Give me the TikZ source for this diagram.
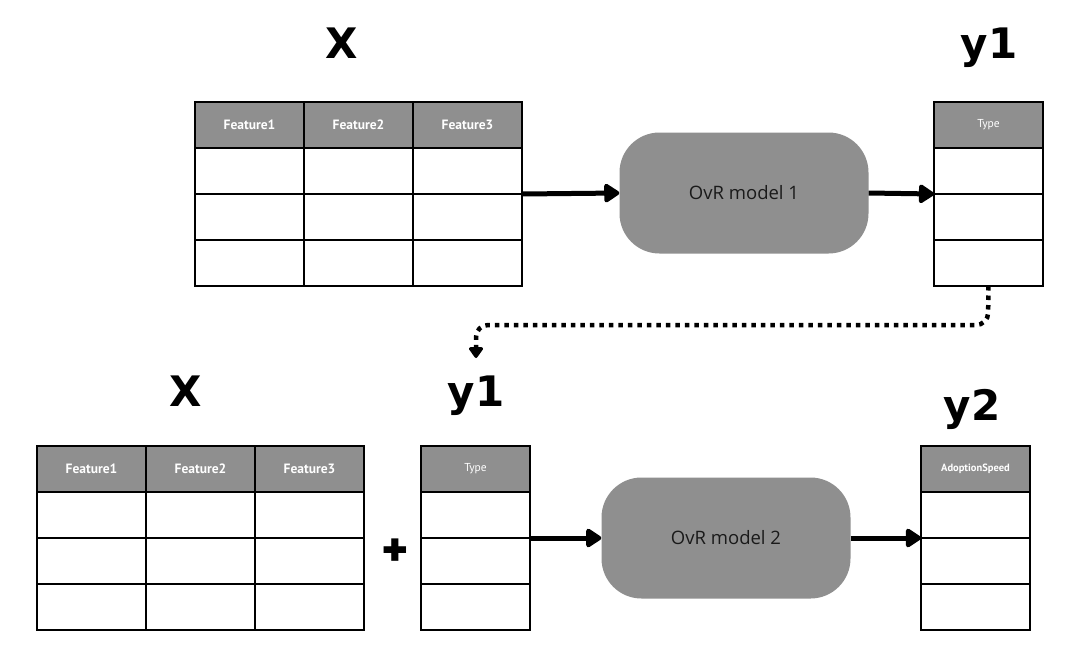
\documentclass[tikz,border=0pt]{standalone}
\usepackage{fontspec}
\setmainfont{Open Sans}
\newfontfamily\bigfont{DejaVu Sans}
\newfontfamily\plusfont{Poppins}
\newfontfamily\headfont{PT Sans}
\usetikzlibrary{arrows.meta}

\definecolor{hdrgrey}{HTML}{8F8F8F}
\definecolor{boxgrey}{HTML}{8F8F8F}
\definecolor{inktext}{HTML}{1A1A1A}

% A table of columns 109pt wide with a grey header row and three empty rows (46pt each).
% #1 name, #2 x, #3 y (top left), #4 header texts, #5 header font, #6 total width
\newcommand\gridtable[6]{%
  \node[tableframe, minimum width=#6] (#1) at (#2,#3) {};
  \foreach \h [count=\c from 0] in {#4} {
    \node[hcell, font=#5] (#1-h\c) at ({#2+109*\c},#3) {\h};
    \foreach \r in {1,2,3}
      \node[bcell] (#1-r\r c\c) at ({#2+109*\c},{#3+46*\r}) {};
  }%
}

\begin{document}
\begin{tikzpicture}[x=1pt,y=-1pt,
  tableframe/.style={anchor=north west, inner sep=0pt, outer sep=0pt,
    minimum height=184pt},
  hcell/.style={draw=black, line width=1.6pt, fill=hdrgrey, text=white,
    anchor=north west, inner sep=0pt, outer sep=0pt,
    minimum width=109pt, minimum height=46pt},
  bcell/.style={draw=black, line width=1.6pt, fill=white,
    anchor=north west, inner sep=0pt, outer sep=0pt,
    minimum width=109pt, minimum height=46pt},
  model/.style={fill=boxgrey, rounded corners=40pt, inner sep=0pt,
    minimum width=249pt, minimum height=121pt, text=inktext,
    font=\fontsize{18.5}{20}\selectfont},
  biglabel/.style={anchor=base, inner sep=0pt,
    font=\bigfont\bfseries\fontsize{42}{46}\selectfont},
  flow/.style={line width=5pt, -{Triangle[length=17pt,width=21pt,round]}},
  carry/.style={line width=4.5pt, dash pattern=on 4.5pt off 5pt,
    rounded corners=12pt, -{Triangle[length=12pt,width=16pt,round]}}
]
\useasboundingbox[fill=white] (0,0) rectangle (1087,657);

% first stage
\node[biglabel] (xtop) at (342,58) {X};
\node[biglabel] (ytop) at (989,58) {y1};
\gridtable{xa}{195}{102}{Feature1,Feature2,Feature3}{\headfont\bfseries\fontsize{13.5}{15}\selectfont}{327pt}
\gridtable{ya}{934}{102}{Type}{\headfont\fontsize{11.5}{13}\selectfont}{109pt}
\node[model] (m1) at (744,193) {OvR model 1};
\draw[flow] (xa.east) -- (m1.west);
\draw[flow] (m1.east) -- (ya.west);

% second stage
\node[biglabel] (xbot) at (186,406) {X};
\node[biglabel] (ybot) at (476,406) {y1};
\node[biglabel] (yout) at (972,420) {y2};
\gridtable{xb}{37}{446}{Feature1,Feature2,Feature3}{\headfont\bfseries\fontsize{13.5}{15}\selectfont}{327pt}
\gridtable{yb}{421}{446}{Type}{\headfont\fontsize{11.5}{13}\selectfont}{109pt}
\gridtable{yc}{921}{446}{AdoptionSpeed}{\headfont\bfseries\fontsize{10.5}{12}\selectfont}{109pt}
\node[inner sep=0pt, font=\plusfont\bfseries\fontsize{44}{46}\selectfont] (plus) at (395,552) {+};
\node[model] (m2) at (726,538) {OvR model 2};
\draw[flow] (yb.east) -- (m2.west);
\draw[flow] (m2.east) -- (yc.west);

% predicted labels carried over to the second stage
\coordinate (drop) at (476,358);
\draw[carry] (ya.south) -- (988,325) -- (476,325) -- (drop);
\end{tikzpicture}
\end{document}
